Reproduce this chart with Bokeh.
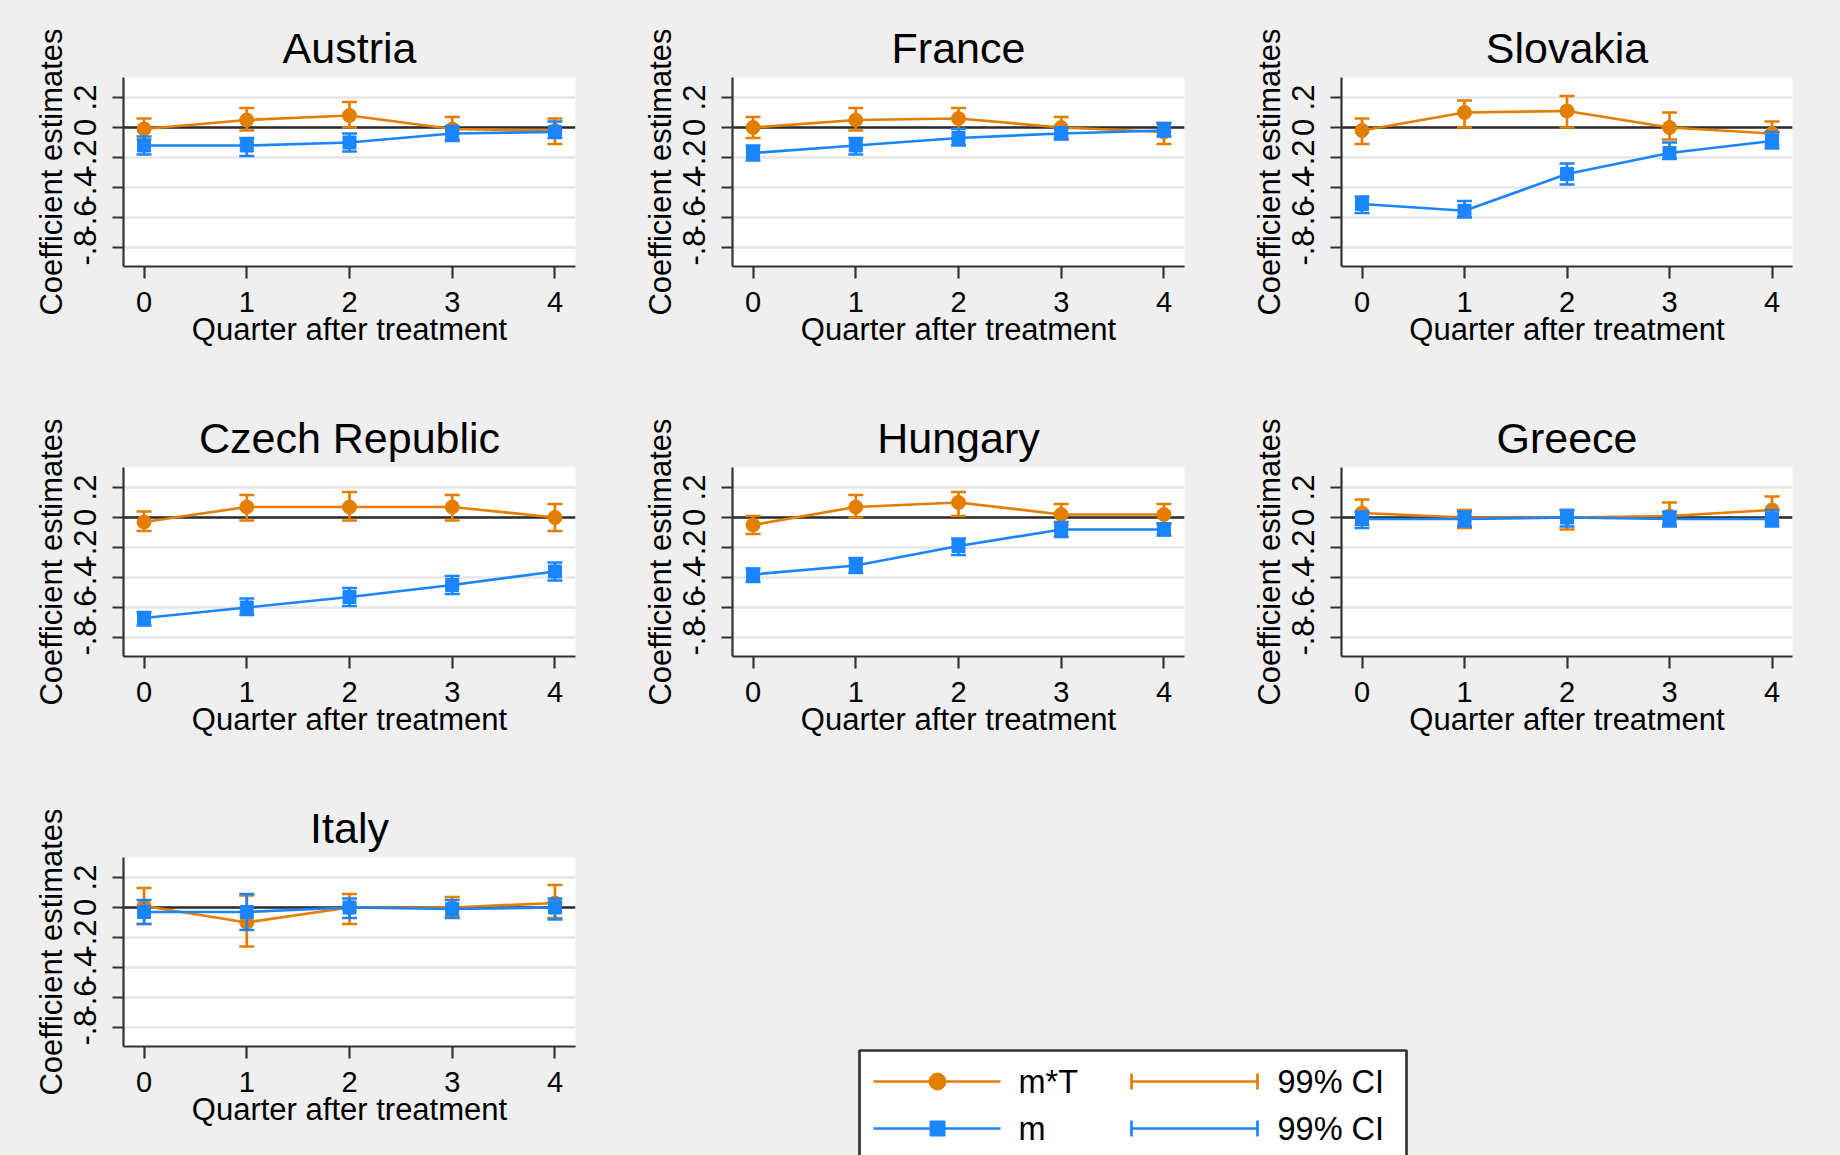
from bokeh.plotting import figure
from bokeh.layouts import row, column
from bokeh.models import Range1d, FixedTicker, Span, ColumnDataSource, GlobalInlineStyleSheet
from bokeh.embed import file_html
from bokeh.resources import INLINE

# ---------------- data ----------------
quarters = [0, 1, 2, 3, 4]
y_ticks = [-0.8, -0.6, -0.4, -0.2, 0.0, 0.2]
y_tick_labels = ["-.8", "-.6", "-.4", "-.2", "0", ".2"]
x_title = "Quarter after treatment"
y_title = "Coefficient estimates"
series_labels = ["m*T", "m"]
ci_label = "99% CI"

austria_mT = [-0.01, 0.05, 0.08, -0.01, -0.02]
austria_mT_lo = [-0.08, -0.02, 0.00, -0.08, -0.11]
austria_mT_hi = [0.06, 0.13, 0.17, 0.07, 0.06]
austria_m = [-0.12, -0.12, -0.10, -0.04, -0.03]
austria_m_lo = [-0.18, -0.19, -0.16, -0.09, -0.07]
austria_m_hi = [-0.06, -0.07, -0.04, 0.01, 0.04]

france_mT = [0.00, 0.05, 0.06, 0.00, -0.03]
france_mT_lo = [-0.07, -0.02, -0.01, -0.07, -0.11]
france_mT_hi = [0.07, 0.13, 0.13, 0.07, 0.03]
france_m = [-0.17, -0.12, -0.07, -0.04, -0.02]
france_m_lo = [-0.22, -0.18, -0.12, -0.08, -0.06]
france_m_hi = [-0.12, -0.07, -0.01, 0.00, 0.03]

slovakia_mT = [-0.02, 0.10, 0.11, 0.00, -0.04]
slovakia_mT_lo = [-0.11, 0.00, 0.00, -0.08, -0.12]
slovakia_mT_hi = [0.06, 0.18, 0.21, 0.10, 0.04]
slovakia_m = [-0.51, -0.555, -0.31, -0.17, -0.09]
slovakia_m_lo = [-0.57, -0.60, -0.38, -0.21, -0.14]
slovakia_m_hi = [-0.46, -0.49, -0.24, -0.10, -0.03]

czech_mT = [-0.03, 0.07, 0.07, 0.07, 0.00]
czech_mT_lo = [-0.09, -0.02, -0.02, -0.02, -0.09]
czech_mT_hi = [0.04, 0.15, 0.17, 0.15, 0.09]
czech_m = [-0.67, -0.60, -0.53, -0.45, -0.36]
czech_m_lo = [-0.72, -0.65, -0.59, -0.51, -0.42]
czech_m_hi = [-0.63, -0.54, -0.47, -0.39, -0.30]

hungary_mT = [-0.05, 0.07, 0.10, 0.02, 0.02]
hungary_mT_lo = [-0.11, 0.00, 0.01, -0.05, -0.04]
hungary_mT_hi = [0.01, 0.15, 0.17, 0.09, 0.09]
hungary_m = [-0.38, -0.32, -0.19, -0.08, -0.08]
hungary_m_lo = [-0.43, -0.37, -0.25, -0.13, -0.12]
hungary_m_hi = [-0.34, -0.27, -0.14, -0.03, -0.04]

greece_mT = [0.03, 0.00, 0.00, 0.01, 0.05]
greece_mT_lo = [-0.05, -0.07, -0.08, -0.05, -0.03]
greece_mT_hi = [0.12, 0.05, 0.05, 0.10, 0.14]
greece_m = [-0.01, -0.01, 0.00, -0.01, -0.01]
greece_m_lo = [-0.07, -0.06, -0.06, -0.06, -0.06]
greece_m_hi = [0.04, 0.04, 0.05, 0.04, 0.05]

italy_mT = [0.01, -0.10, 0.00, 0.00, 0.03]
italy_mT_lo = [-0.11, -0.26, -0.11, -0.06, -0.07]
italy_mT_hi = [0.13, 0.08, 0.09, 0.07, 0.15]
italy_m = [-0.03, -0.03, 0.00, -0.01, 0.00]
italy_m_lo = [-0.11, -0.15, -0.07, -0.07, -0.08]
italy_m_hi = [0.05, 0.09, 0.06, 0.05, 0.06]

# ---------------- style ----------------
FONT = "Liberation Sans"
BG = "#efefef"
ORANGE = "#E37E00"
BLUE = "#1A85FF"
AXIS = "#333333"
LW = 2.7


def panel(title, mT, mT_lo, mT_hi, m, m_lo, m_hi,
          width, height, left, right, top, frame_h):
    bottom = height - top - frame_h
    p = figure(width=width, height=height,
               x_range=Range1d(-0.2, 4.2), y_range=Range1d(-0.9267, 0.3333),
               output_backend="svg", toolbar_location=None,
               min_border_left=left, min_border_right=right,
               min_border_top=top, min_border_bottom=bottom,
               background_fill_color="white", border_fill_color=BG,
               outline_line_color=None, title=title)
    p.title.text_font = FONT
    p.title.text_font_size = "43px"
    p.title.text_font_style = "normal"
    p.title.text_color = "black"
    p.title.align = "center"
    p.title.standoff = 12

    p.xaxis.ticker = FixedTicker(ticks=quarters)
    p.yaxis.ticker = FixedTicker(ticks=y_ticks)
    p.yaxis.major_label_overrides = dict(zip(y_ticks, y_tick_labels))
    p.yaxis.major_label_orientation = "vertical"
    p.xaxis.axis_label = x_title
    p.yaxis.axis_label = y_title
    for ax in (p.xaxis, p.yaxis):
        ax.axis_line_color = AXIS
        ax.axis_line_width = 2.2
        ax.major_tick_line_color = AXIS
        ax.major_tick_line_width = 2.2
        ax.minor_tick_line_color = None
        ax.major_tick_in = 0
        ax.major_label_text_font = FONT
        ax.major_label_text_color = "black"
        ax.axis_label_text_font = FONT
        ax.axis_label_text_font_style = "normal"
        ax.axis_label_text_color = "black"
    p.xaxis.major_tick_out = 12
    p.yaxis.major_tick_out = 11
    p.xaxis.major_label_text_font_size = "29px"
    p.yaxis.major_label_text_font_size = "31px"
    p.xaxis.axis_label_text_font_size = "31px"
    p.yaxis.axis_label_text_font_size = "31px"
    p.xaxis.major_label_standoff = 13
    p.yaxis.major_label_standoff = 16
    p.xaxis.axis_label_standoff = -3
    p.yaxis.axis_label_standoff = 3

    p.xgrid.grid_line_color = None
    p.ygrid.ticker = FixedTicker(ticks=y_ticks)
    p.ygrid.grid_line_color = "#e6e6e6"
    p.ygrid.grid_line_width = 2.7

    p.add_layout(Span(location=0, dimension="width", line_color="#2b2b2b",
                      line_width=2.7, level="underlay"))

    for est, lo, hi, color, marker, msize in (
            (mT, mT_lo, mT_hi, ORANGE, "circle", 14),
            (m, m_lo, m_hi, BLUE, "square", 13)):
        src = ColumnDataSource(dict(x=quarters, y=est, lo=lo, hi=hi))
        p.segment(x0="x", y0="lo", x1="x", y1="hi", source=src,
                  line_color=color, line_width=LW)
        p.scatter(x="x", y="lo", marker="dash", size=15, source=src,
                  line_color=color, line_width=LW)
        p.scatter(x="x", y="hi", marker="dash", size=15, source=src,
                  line_color=color, line_width=LW)
        p.line(x="x", y="y", source=src, line_color=color, line_width=LW)
        p.scatter(x="x", y="y", marker=marker, size=msize, source=src,
                  fill_color=color, line_color=color)
    return p


C1 = dict(width=610, left=123, right=35)
C2 = dict(width=610, left=122, right=36)
C3 = dict(width=620, left=121, right=48)
R1 = dict(height=390, top=77, frame_h=189)
R2 = dict(height=390, top=77, frame_h=189)
R3 = dict(height=375, top=77, frame_h=189)

f_at = panel("Austria", austria_mT, austria_mT_lo, austria_mT_hi,
             austria_m, austria_m_lo, austria_m_hi, **C1, **R1)
f_fr = panel("France", france_mT, france_mT_lo, france_mT_hi,
             france_m, france_m_lo, france_m_hi, **C2, **R1)
f_sk = panel("Slovakia", slovakia_mT, slovakia_mT_lo, slovakia_mT_hi,
             slovakia_m, slovakia_m_lo, slovakia_m_hi, **C3, **R1)
f_cz = panel("Czech Republic", czech_mT, czech_mT_lo, czech_mT_hi,
             czech_m, czech_m_lo, czech_m_hi, **C1, **R2)
f_hu = panel("Hungary", hungary_mT, hungary_mT_lo, hungary_mT_hi,
             hungary_m, hungary_m_lo, hungary_m_hi, **C2, **R2)
f_gr = panel("Greece", greece_mT, greece_mT_lo, greece_mT_hi,
             greece_m, greece_m_lo, greece_m_hi, **C3, **R2)
f_it = panel("Italy", italy_mT, italy_mT_lo, italy_mT_hi,
             italy_m, italy_m_lo, italy_m_hi, **C1, **R3)

# ---------------- legend (key panel) ----------------
LW_, LH_ = 1230, 375
lg = figure(width=LW_, height=LH_, x_range=Range1d(0, LW_), y_range=Range1d(LH_, 0),
            output_backend="svg", toolbar_location=None,
            x_axis_location=None, y_axis_location=None,
            min_border_left=0, min_border_right=0, min_border_top=0, min_border_bottom=0,
            background_fill_color=BG, border_fill_color=BG, outline_line_color=None)
lg.grid.visible = False
lg.quad(left=249, right=796, top=270, bottom=395, fill_color="white",
        line_color=AXIS, line_width=2.7)
rows_y = [301, 348]
colors = [ORANGE, BLUE]
markers = ["circle", "square"]
msizes = [17, 15]
for yy, c, mk, ms, lab in zip(rows_y, colors, markers, msizes, series_labels):
    lg.segment(x0=263, y0=yy, x1=390, y1=yy, line_color=c, line_width=LW)
    lg.scatter(x=[327], y=[yy], marker=mk, size=ms, fill_color=c, line_color=c)
    lg.text(x=[408], y=[yy], text=[lab], text_font_size="32.5px",
            text_baseline="middle", text_align="left", text_color="black",
            text_font={"value": FONT})
    lg.segment(x0=521, y0=yy, x1=647, y1=yy, line_color=c, line_width=LW)
    lg.segment(x0=[521, 647], y0=[yy - 8, yy - 8], x1=[521, 647], y1=[yy + 8, yy + 8],
               line_color=c, line_width=LW)
    lg.text(x=[667], y=[yy], text=[ci_label], text_font_size="32.5px",
            text_baseline="middle", text_align="left", text_color="black",
            text_font={"value": FONT})

# the key panel is nested in its own column so that its frame is not
# aligned with the Italy panel's frame
layout = column(row(f_at, f_fr, f_sk), row(f_cz, f_hu, f_gr), row(f_it, column(lg)))
layout.stylesheets = [GlobalInlineStyleSheet(css="body { background-color: #efefef; }")]

open("out.html", "w").write(file_html(layout, INLINE))
